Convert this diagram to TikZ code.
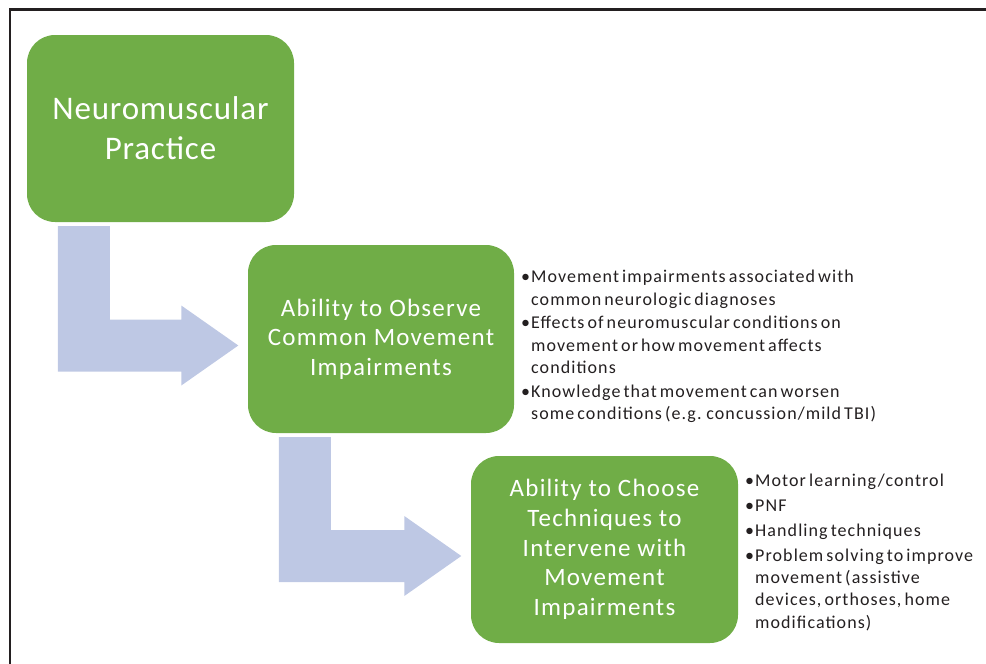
\documentclass[tikz,border=0pt]{standalone}
\usepackage{fontspec}
\setmainfont{Carlito}
\newfontfamily\titlefont[LetterSpace=2.5]{Carlito}
\newfontfamily\boxfont[LetterSpace=5]{Carlito}
\newfontfamily\listfont[LetterSpace=6,WordSpace=0.6]{Carlito}
\usetikzlibrary{calc}

\definecolor{boxgreen}{RGB}{112,173,71}
\definecolor{arrowblue}{RGB}{190,200,228}
\definecolor{ink}{RGB}{35,31,32}

\tikzset{
	stage/.style={fill=boxgreen, rounded corners=28pt, minimum width=267pt, minimum height=187pt, text=white, align=center, inner sep=0pt},
	bentarrow/.style={fill=arrowblue},
	notes/.style={anchor=north west, align=left, text=ink, inner sep=0pt, font=\listfont\fontsize{18}{22.3}\selectfont},
}

% bullet and hanging indent
\newcommand{\bul}{\makebox[10pt][l]{\textbullet}}
\newcommand{\hang}{\hspace*{10pt}}

% bent arrow from the bottom of #1 to the left side of #2
\newcommand{\bendarrow}[2]{
	\coordinate (#1-top) at ($(#1.south west)+(31,4)$);
	\coordinate (#2-tip) at ($(#2.west)+(-9.5,6.5)$);
	\fill[bentarrow] let \p1=(#1-top), \p2=(#2-tip) in
		(\x1,\y1) -- (\x1+52pt,\y1) -- (\x1+52pt,\y2+26pt) -- (\x2-57pt,\y2+26pt)
		-- (\x2-57pt,\y2+40pt) -- (\x2,\y2) -- (\x2-57pt,\y2-40pt)
		-- (\x2-57pt,\y2-26pt) -- (\x1,\y2-26pt) -- cycle;
}

\begin{document}
\begin{tikzpicture}[x=1pt,y=-1pt]
	\useasboundingbox (0,0) rectangle (986,664);
	% frame
	\draw[ink, line width=2.5pt] (10,664)--(10,9.5)--(986,9.5);

	\node[stage, font=\titlefont\fontsize{33}{40}\selectfont] (neuro) at (160.5,128.5) {Neuromuscular\\Practice};
	\node[stage, minimum width=266pt, minimum height=188pt, font=\boxfont\fontsize{25}{29.5}\selectfont] (observe) at (381,339) {Ability to Observe\\Common Movement\\Impairments};
	\node[stage, font=\boxfont\fontsize{25}{29.7}\selectfont] (choose) at (604.5,549.5) {Ability to Choose\\Techniques to\\Intervene with\\Movement\\Impairments};

	\bendarrow{neuro}{observe}
	\bendarrow{observe}{choose}

	\node[notes] (observenotes) at (521,270) {\bul Movement impairments associated with\\
		\hang common neurologic diagnoses\\[1.5pt]
		\bul Effects of neuromuscular conditions on\\
		\hang movement or how movement affects\\
		\hang conditions\\[1.5pt]
		\bul Knowledge that movement can worsen\\
		\hang some conditions (e.g. concussion/mild TBI)};
	\node[notes] (choosenotes) at (745,474) {\bul Motor learning/control\\[2.5pt]
		\bul PNF\\[2.5pt]
		\bul Handling techniques\\[2.5pt]
		\bul Problem solving to improve\\
		\hang movement (assistive\\
		\hang devices, orthoses, home\\
		\hang modifications)};
\end{tikzpicture}
\end{document}
